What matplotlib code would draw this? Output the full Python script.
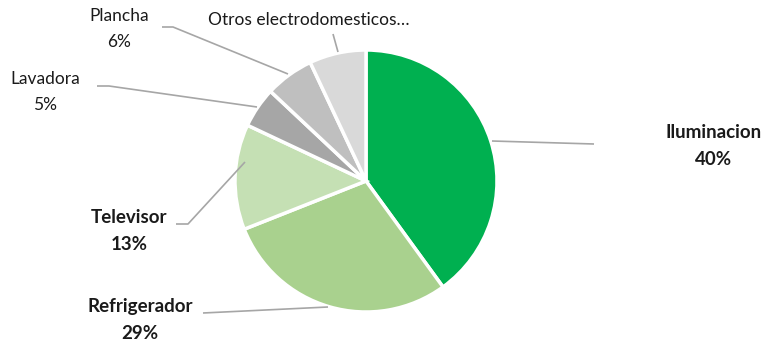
import matplotlib.pyplot as plt

# consumo por uso
categorias = ["Iluminacion", "Refrigerador", "Televisor", "Lavadora", "Plancha",
              "Otros electrodomesticos"]
porcentajes = [40, 29, 13, 5, 6, 7]
colores = ["#00B050", "#A9D18E", "#C5E0B4", "#A6A6A6", "#BFBFBF", "#D9D9D9"]
negrita = [True, True, True, False, False, False]

W, H = 767, 343
fig = plt.figure(figsize=(W / 100, H / 100), dpi=100)
ax = fig.add_axes([0, 0, 1, 1])

cx, cy, r = 366, H - 181, 131
ax.pie(porcentajes, colors=colores, startangle=90, counterclock=False,
       center=(cx, cy), radius=r, frame=True,
       wedgeprops=dict(edgecolor="white", linewidth=2.5))
ax.set_xlim(0, W)
ax.set_ylim(0, H)
ax.set_aspect("equal")
ax.axis("off")

# posiciones de etiquetas y lineas guia (pixeles, y hacia abajo)
etiquetas_pos = [(714, 146), (140, 320), (129, 231), (45, 92), (119, 29), (309, 20)]
guias = [
    [(492, 141), (594, 144)],
    [(328, 307), (203, 313)],
    [(245, 162), (188, 224), (176, 224)],
    [(257, 107), (109, 86), (97, 86)],
    [(288, 74), (173, 27), (162, 27)],
    [(338, 52), (333, 34)],
]

for i, (cat, p) in enumerate(zip(categorias, porcentajes)):
    xs = [x for x, y in guias[i]]
    ys = [H - y for x, y in guias[i]]
    ax.plot(xs, ys, color="#A6A6A6", lw=1.2, solid_capstyle="butt")
    x, y = etiquetas_pos[i]
    if i == len(categorias) - 1:
        texto = cat + "…"
    else:
        texto = f"{cat}\n{p}%"
    ax.text(x, H - y, texto, ha="center", va="center",
            fontsize=13.5 if negrita[i] else 12.5, family="Lato",
            fontweight="bold" if negrita[i] else "normal",
            color="#1a1a1a", linespacing=1.7)

fig.savefig("out.png", dpi=100)
